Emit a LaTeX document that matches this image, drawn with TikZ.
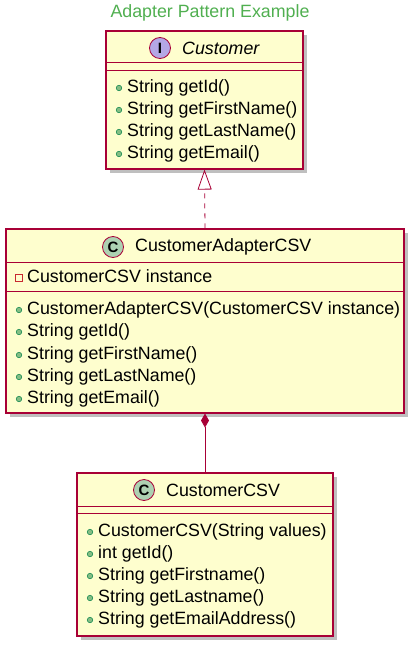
\documentclass[tikz,border=0pt]{standalone}
\usepackage{fontspec}
\setmainfont{Liberation Sans}
\usepackage{tikz}
\usetikzlibrary{arrows.meta,shadows}
\definecolor{umlfill}{RGB}{254, 254, 206}
\definecolor{umlborder}{RGB}{168, 0, 54}
\definecolor{umlclass}{RGB}{173, 209, 178}
\definecolor{umliface}{RGB}{180, 167, 229}
\definecolor{umlpub}{RGB}{132, 190, 132}
\definecolor{umlpubline}{RGB}{3, 128, 72}
\definecolor{umlpriv}{RGB}{200, 41, 48}
\definecolor{umltitle}{RGB}{80, 175, 80}
\tikzset{
  umlbox/.style={draw=umlborder, fill=umlfill, line width=1.1pt, inner sep=0pt,
    drop shadow={shadow xshift=4pt, shadow yshift=-4pt, fill=black!50, opacity=0.5}},
  umlsep/.style={draw=umlborder, line width=1pt},
  spot/.style={circle, draw=umlborder, line width=0.8pt, minimum size=21pt, inner sep=0pt,
    font=\fontsize{15}{15}\selectfont\bfseries},
  pubdot/.style={circle, draw=umlpubline, fill=umlpub, line width=0.5pt, minimum size=5.5pt, inner sep=0pt},
  privsq/.style={rectangle, draw=umlpriv, line width=0.8pt, minimum size=6.5pt, inner sep=0pt},
  member/.style={anchor=west, inner sep=0pt, text height=12.5pt, text depth=3.5pt,
    font=\fontsize{17.8}{20}\selectfont},
  pubm/.style={member, label={[pubdot, label distance=5pt]left:{}}},
  privm/.style={member, label={[privsq, label distance=4.5pt]left:{}}},
  clname/.style={font=\fontsize{17.8}{20}\selectfont, inner sep=0pt}
}
\begin{document}
\begin{tikzpicture}[x=1pt, y=-1pt]
\useasboundingbox (0,0) rectangle (414,645);

\node[font=\fontsize{17.8}{20}\selectfont, text=umltitle] (title) at (210,13) {Adapter Pattern Example};

% interface
\node[umlbox, minimum width=197pt, minimum height=138pt] (customer) at (204.5,100) {};
\node[spot, fill=umliface] (customer-spot) at (160,48) {I};
\node[clname, anchor=west, font=\fontsize{17.8}{20}\selectfont\itshape] (customer-name) at (182,48) {Customer};
\draw[umlsep] ([yshift=-32pt]customer.north west) -- ([yshift=-32pt]customer.north east);
\draw[umlsep] ([yshift=-40pt]customer.north west) -- ([yshift=-40pt]customer.north east);
\node[pubm] (customer-m1) at (127,88) {String getId()};
\node[pubm] (customer-m2) at (127,110) {String getFirstName()};
\node[pubm] (customer-m3) at (127,132) {String getLastName()};
\node[pubm] (customer-m4) at (127,154) {String getEmail()};

% adapter
\node[umlbox, minimum width=398pt, minimum height=184pt] (adapter) at (205,321) {};
\node[spot, fill=umlclass] (adapter-spot) at (113,247) {C};
\node[clname, anchor=west] (adapter-name) at (135,247) {CustomerAdapterCSV};
\draw[umlsep] ([yshift=-34pt]adapter.north west) -- ([yshift=-34pt]adapter.north east);
\draw[umlsep] ([yshift=-63pt]adapter.north west) -- ([yshift=-63pt]adapter.north east);
\node[privm] (adapter-a1) at (27,278) {CustomerCSV instance};
\node[pubm] (adapter-m1) at (27,310) {CustomerAdapterCSV(CustomerCSV instance)};
\node[pubm] (adapter-m2) at (27,332) {String getId()};
\node[pubm] (adapter-m3) at (27,355) {String getFirstName()};
\node[pubm] (adapter-m4) at (27,377) {String getLastName()};
\node[pubm] (adapter-m5) at (27,399) {String getEmail()};

% adaptee
\node[umlbox, minimum width=256pt, minimum height=163pt] (csv) at (205,554.5) {};
\node[spot, fill=umlclass] (csv-spot) at (144,490) {C};
\node[clname, anchor=west] (csv-name) at (166,490) {CustomerCSV};
\draw[umlsep] ([yshift=-34pt]csv.north west) -- ([yshift=-34pt]csv.north east);
\draw[umlsep] ([yshift=-41pt]csv.north west) -- ([yshift=-41pt]csv.north east);
\node[pubm] (csv-m1) at (98,532) {CustomerCSV(String values)};
\node[pubm] (csv-m2) at (98,554) {int getId()};
\node[pubm] (csv-m3) at (98,576) {String getFirstname()};
\node[pubm] (csv-m4) at (98,598) {String getLastname()};
\node[pubm] (csv-m5) at (98,620) {String getEmailAddress()};

% relations
\draw[umlborder, line width=0.8pt, dash pattern=on 5pt off 5pt,
  -{Triangle[open, width=14pt, length=20pt, line width=0.8pt]}]
  (adapter.north) -- (customer.south);
\draw[umlborder, line width=0.8pt, {Diamond[width=8pt, length=14pt]}-]
  (adapter.south) -- (csv.north);
\end{tikzpicture}
\end{document}
